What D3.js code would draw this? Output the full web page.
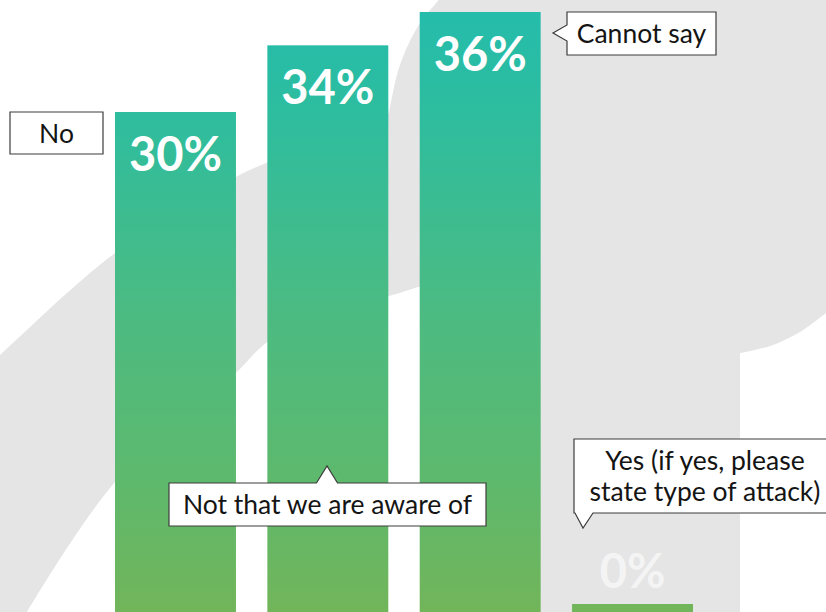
<!DOCTYPE html>
<html>
<head>
<meta charset="utf-8">
<script src="https://cdn.jsdelivr.net/npm/d3@7"></script>
<style>
  body { margin: 0; background: #fff; }
</style>
</head>
<body>
<div id="chart"></div>
<script>
// answers and their shares (%)
const categories = ["No", "Not that we are aware of", "Cannot say", "Yes (if yes, please state type of attack)"];
const values = [30, 34, 36, 0];
const valueLabels = ["30%", "34%", "36%", "0%"];
const calloutLines = [
  ["No"],
  ["Not that we are aware of"],
  ["Cannot say"],
  ["Yes (if yes, please", "state type of attack)"]
];

const width = 826, height = 612;
const minBar = 8; // a 0% answer still gets a stub

// where each answer's callout box sits, with its little pointer
const calloutLayout = [
  { x: 10, y: 112, w: 93, h: 42 },
  { x: 169, y: 483, w: 317, h: 43, side: "top", at: 327, half: 10.5, depth: 17 },
  { x: 567, y: 12, w: 149, h: 43, side: "left", at: 33, half: 8, depth: 14 },
  { x: 574, y: 439, w: 262, h: 74, side: "bottom", at: 583, half: 8, depth: 15, skew: -2 }
];

const svg = d3.select("#chart")
  .append("svg")
    .attr("width", width)
    .attr("height", height)
    .attr("viewBox", [0, 0, width, height]);

svg.append("rect").attr("width", width).attr("height", height).attr("fill", "#fff");

// light grey logo shape behind the chart
const smooth = d3.line().curve(d3.curveCatmullRom);
const seg = pts => smooth(pts).replace(/^M/, "L");
const bgPath =
  smooth([[-40, 392], [0, 355], [115, 253], [236, 177], [266, 163], [330, 138], [389, 113]]) +
  seg([[389, 113], [393, 92], [399, 68], [409, 43], [422, 20], [437, 2], [446, -10]]) +
  "L830,-10L830,311" +
  seg([[826, 313], [800, 332], [773, 345], [755, 350], [740, 353]]) +
  "L740,620L480,620" +
  seg([[424, 285], [389, 296], [350, 305], [310, 319], [266, 343], [236, 373], [115, 482], [27, 612]]) +
  "L-20,690Z";
svg.append("path").attr("d", bgPath).attr("fill", "#e5e5e5");

const defs = svg.append("defs");
const grad = defs.append("linearGradient")
    .attr("id", "barGrad")
    .attr("gradientUnits", "userSpaceOnUse")
    .attr("x1", 0).attr("y1", 0).attr("x2", 0).attr("y2", height);
[[0, "#24bcad"], [0.18, "#2dbd9f"], [0.5, "#4bbb83"], [0.78, "#5db96d"], [1, "#72b55a"]]
  .forEach(([o, c]) => grad.append("stop").attr("offset", o).attr("stop-color", c));

const x = d3.scaleBand(categories, [115, 693]).paddingInner(0.206).paddingOuter(0);
const y = d3.scaleLinear([0, 36], [height, 12]);

const barTop = (v) => Math.min(y(v), height - minBar);

svg.append("g")
  .selectAll("rect")
  .data(categories)
  .join("rect")
    .attr("x", d => x(d))
    .attr("width", x.bandwidth())
    .attr("y", (d, i) => barTop(values[i]))
    .attr("height", (d, i) => height - barTop(values[i]))
    .attr("fill", "url(#barGrad)");

// value labels: inside the bar, or above it when the bar is too short
svg.append("g")
    .attr("font-family", "Lato, 'Open Sans', sans-serif")
    .attr("font-weight", 700)
    .attr("font-size", 47)
    .attr("text-anchor", "middle")
  .selectAll("text")
  .data(categories)
  .join("text")
    .attr("x", d => x(d) + x.bandwidth() / 2)
    .attr("y", (d, i) => {
      const t = barTop(values[i]);
      return height - t > 80 ? t + 59 : t - 16;
    })
    .attr("fill", (d, i) => height - barTop(values[i]) > 80 ? "#fff" : "#f4f4f4")
    .text((d, i) => valueLabels[i]);

function calloutPath(b) {
  const { x: x0, y: y0, w, h } = b;
  const x1 = x0 + w, y1 = y0 + h;
  const p = d3.path();
  p.moveTo(x0, y0);
  if (b.side === "top") {
    p.lineTo(b.at - b.half, y0);
    p.lineTo(b.at, y0 - b.depth);
    p.lineTo(b.at + b.half, y0);
  }
  p.lineTo(x1, y0);
  p.lineTo(x1, y1);
  if (b.side === "bottom") {
    p.lineTo(b.at + b.half + 2, y1);
    p.lineTo(b.at, y1 + b.depth);
    p.lineTo(b.at - b.half + 2 + (b.skew || 0), y1);
  }
  p.lineTo(x0, y1);
  if (b.side === "left") {
    p.lineTo(x0, b.at + b.half);
    p.lineTo(x0 - b.depth, b.at);
    p.lineTo(x0, b.at - b.half);
  }
  p.closePath();
  return p.toString();
}

const fs = 26.5, lineGap = 31;
const callouts = svg.append("g")
  .selectAll("g")
  .data(categories)
  .join("g");

callouts.append("path")
    .attr("d", (d, i) => calloutPath(calloutLayout[i]))
    .attr("fill", "#fff")
    .attr("stroke", "#3c3c3c")
    .attr("stroke-width", 1.2);

callouts.append("text")
    .attr("font-family", "Lato, 'Open Sans', sans-serif")
    .attr("font-size", fs)
    .attr("fill", "#141414")
    .attr("text-anchor", "middle")
  .selectAll("tspan")
  .data((d, i) => calloutLines[i].map((line, k, all) => {
    const b = calloutLayout[i];
    const cy = b.y + b.h / 2 + (k - (all.length - 1) / 2) * lineGap;
    return { line, x: b.x + b.w / 2, y: cy + fs * 0.36 };
  }))
  .join("tspan")
    .attr("x", d => d.x)
    .attr("y", d => d.y)
    .text(d => d.line);
</script>
</body>
</html>
